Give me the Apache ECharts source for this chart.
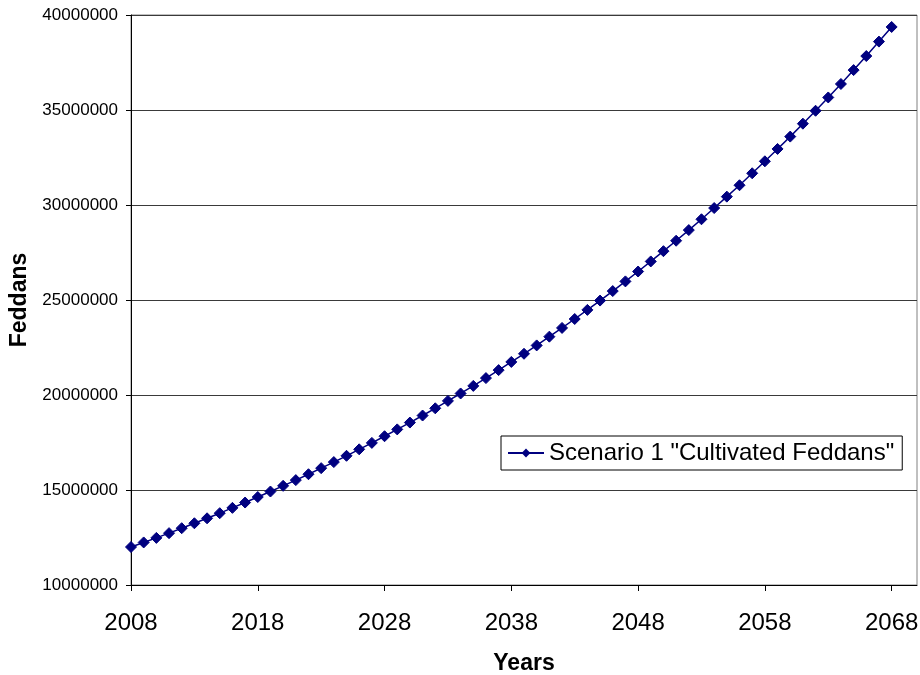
<!DOCTYPE html>
<html>
<head>
<meta charset="utf-8">
<title>Scenario 1 Cultivated Feddans</title>
<script src="https://cdn.jsdelivr.net/npm/echarts@6/dist/echarts.min.js"></script>
<style>
  html, body { margin: 0; padding: 0; background: #ffffff; }
  #chart { width: 920px; height: 675px; }
</style>
</head>
<body>
<div id="chart"></div>
<script>
// Years covered by the projection
const years = [
  2008, 2009, 2010, 2011, 2012, 2013, 2014, 2015, 2016, 2017,
  2018, 2019, 2020, 2021, 2022, 2023, 2024, 2025, 2026, 2027,
  2028, 2029, 2030, 2031, 2032, 2033, 2034, 2035, 2036, 2037,
  2038, 2039, 2040, 2041, 2042, 2043, 2044, 2045, 2046, 2047,
  2048, 2049, 2050, 2051, 2052, 2053, 2054, 2055, 2056, 2057,
  2058, 2059, 2060, 2061, 2062, 2063, 2064, 2065, 2066, 2067,
  2068
];

// Cultivated area (feddans) per year, scenario 1
const cultivatedFeddans = [
  12000000, 12240000, 12480000, 12730000, 12990000, 13250000, 13510000, 13780000, 14060000, 14340000,
  14630000, 14920000, 15220000, 15520000, 15830000, 16150000, 16470000, 16800000, 17140000, 17480000,
  17830000, 18190000, 18550000, 18920000, 19300000, 19690000, 20080000, 20480000, 20890000, 21310000,
  21740000, 22170000, 22610000, 23070000, 23530000, 24000000, 24480000, 24970000, 25470000, 25980000,
  26500000, 27030000, 27570000, 28120000, 28680000, 29250000, 29840000, 30440000, 31040000, 31670000,
  32300000, 32950000, 33600000, 34280000, 34960000, 35660000, 36370000, 37100000, 37840000, 38600000,
  39370000
];

const seriesName = 'Scenario 1 "Cultivated Feddans"';
const xAxisTitle = 'Years';
const yAxisTitle = 'Feddans';

const FONT = '"Liberation Sans", Arial, sans-serif';
const NAVY = '#000080';

const chart = echarts.init(document.getElementById('chart'), null, { renderer: 'canvas' });

chart.setOption({
  animation: false,
  backgroundColor: '#ffffff',
  grid: {
    left: 131,
    right: 3,
    top: 15,
    bottom: 90,
    outerBoundsMode: 'none',
    containLabel: false,
    show: true,
    borderColor: '#808080',
    borderWidth: 1,
    backgroundColor: '#ffffff'
  },
  legend: {
    show: true,
    left: 501,
    top: 436,
    orient: 'horizontal',
    backgroundColor: '#ffffff',
    borderColor: '#000000',
    borderWidth: 1,
    borderRadius: 0,
    padding: [5, 8, 5, 6],
    itemWidth: 36,
    itemHeight: 11,
    itemGap: 6,
    textStyle: { fontFamily: FONT, fontSize: 24, color: '#000000', padding: [0, 0, 0, 0] },
    data: [seriesName]
  },
  xAxis: {
    type: 'value',
    min: 2008,
    max: 2070,
    interval: 10,
    name: xAxisTitle,
    nameLocation: 'middle',
    nameGap: 67,
    nameTextStyle: { fontFamily: FONT, fontSize: 23, fontWeight: 'bold', color: '#000000' },
    axisLine: { show: true, onZero: false, lineStyle: { color: '#000000', width: 1 } },
    axisTick: { show: true, inside: false, length: 6, lineStyle: { color: '#000000' } },
    axisLabel: {
      fontFamily: FONT, fontSize: 24, color: '#000000', margin: 26,
      formatter: function (v) { return String(v); },
      showMaxLabel: false
    },
    splitLine: { show: false }
  },
  yAxis: {
    type: 'value',
    min: 10000000,
    max: 40000000,
    interval: 5000000,
    name: yAxisTitle,
    nameLocation: 'middle',
    nameGap: 100,
    nameRotate: 90,
    nameTextStyle: { fontFamily: FONT, fontSize: 23, fontWeight: 'bold', color: '#000000' },
    axisLine: { show: true, onZero: false, lineStyle: { color: '#000000', width: 1 } },
    axisTick: { show: true, inside: false, length: 5, lineStyle: { color: '#000000' } },
    axisLabel: {
      fontFamily: FONT, fontSize: 17, color: '#000000', margin: 13,
      formatter: function (v) { return String(v); }
    },
    splitLine: { show: true, lineStyle: { color: '#3a3a3a', width: 1 } }
  },
  series: [{
    name: seriesName,
    type: 'line',
    data: years.map(function (y, i) { return [y, cultivatedFeddans[i]]; }),
    symbol: 'diamond',
    symbolSize: 11,
    showAllSymbol: true,
    itemStyle: { color: NAVY, borderColor: NAVY },
    lineStyle: { color: NAVY, width: 1.5 },
    z: 5
  }]
});
</script>
</body>
</html>
